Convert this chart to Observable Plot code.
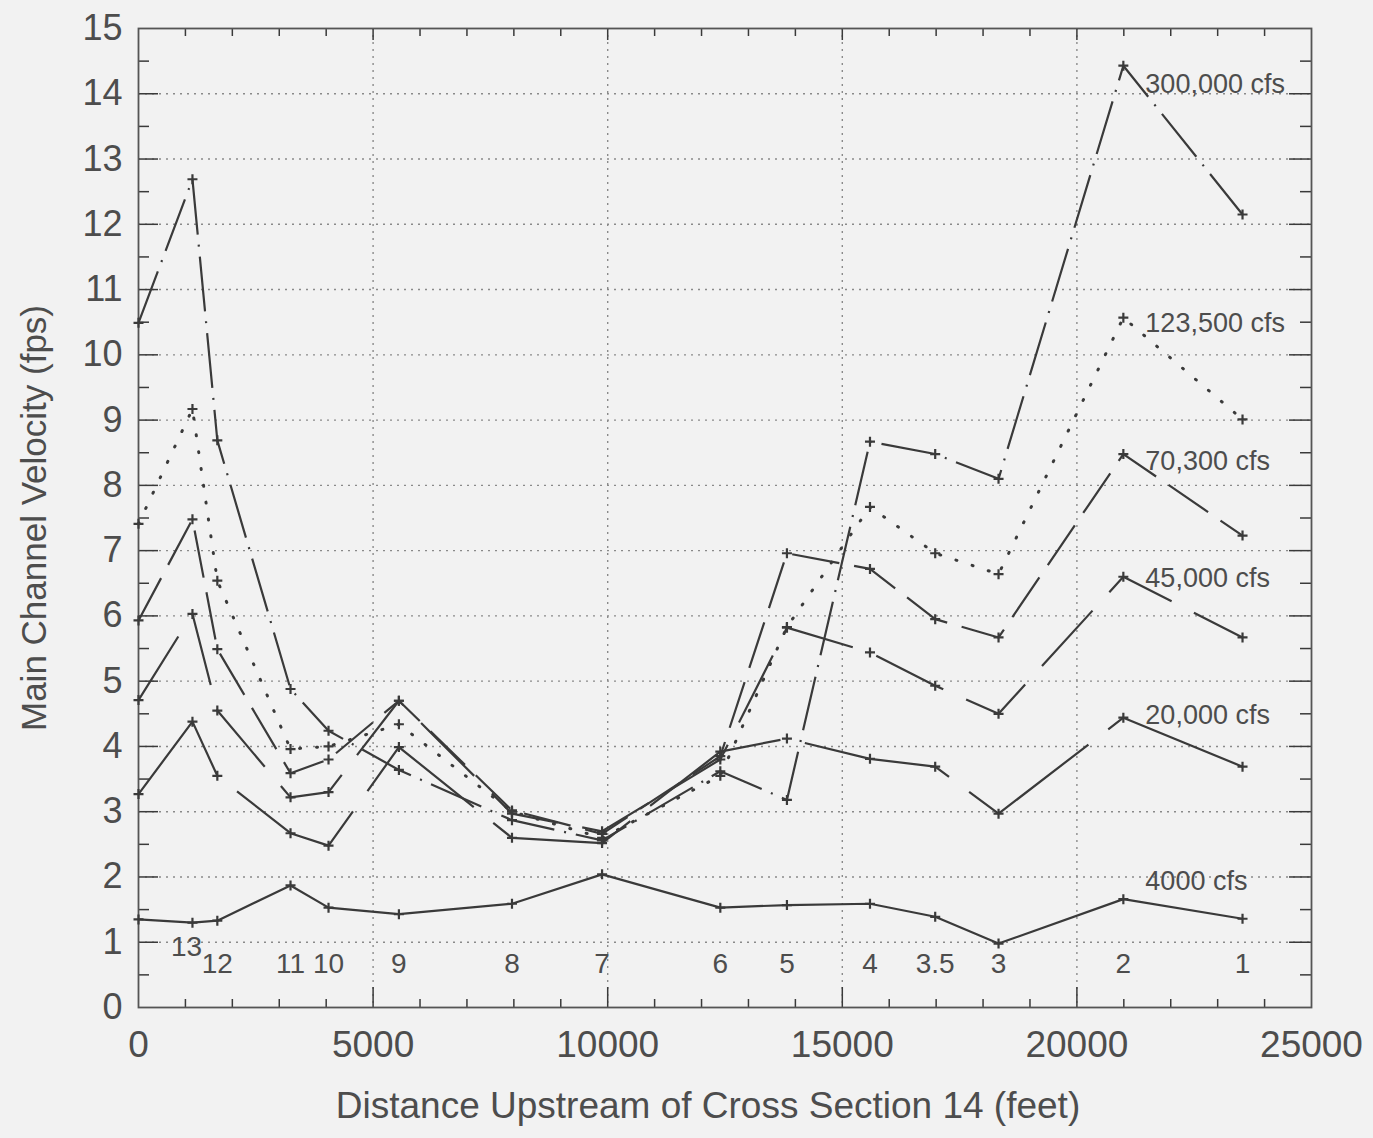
<!DOCTYPE html>
<html><head><meta charset="utf-8">
<script src="https://cdn.jsdelivr.net/npm/d3@7"></script>
<script src="https://cdn.jsdelivr.net/npm/@observablehq/plot@0.6"></script>
<style>
html,body{margin:0;padding:0;background:#f2f2f2;}
#chart{width:1373px;height:1138px;}
svg{font-family:"Liberation Sans",Arial,sans-serif;}
</style></head><body><div id="chart"></div>
<script>
// Cross-section stations (feet upstream of cross section 14)
const stations = [0, 1150, 1680, 3240, 4050, 5550, 7960, 9880, 12400, 13820, 15590, 16980, 18330, 20990, 23530];
const stationNames = ["", "13", "12", "11", "10", "9", "8", "7", "6", "5", "4", "3.5", "3", "2", "1"];

const seriesNames = ["4000 cfs", "20,000 cfs", "45,000 cfs", "70,300 cfs", "123,500 cfs", "300,000 cfs"];
const v4000   = [1.35, 1.30, 1.33, 1.87, 1.53, 1.43, 1.59, 2.04, 1.53, 1.57, 1.59, 1.39, 0.98, 1.66, 1.36];
const v20000  = [3.27, 4.38, 3.55, 2.67, 2.48, 3.99, 2.60, 2.52, 3.92, 4.12, 3.81, 3.69, 2.97, 4.44, 3.69];
const v45000  = [4.71, 6.03, 4.55, 3.22, 3.30, 4.70, 2.97, 2.70, 3.80, 5.82, 5.44, 4.93, 4.50, 6.60, 5.67];
const v70300  = [5.93, 7.48, 5.49, 3.59, 3.80, 4.70, 3.02, 2.66, 3.85, 6.96, 6.72, 5.95, 5.67, 8.48, 7.23];
const v123500 = [7.41, 9.17, 6.54, 3.96, 4.00, 4.34, 3.00, 2.60, 3.55, 5.83, 7.67, 6.96, 6.64, 10.57, 9.01];
const v300000 = [10.49, 12.69, 8.69, 4.88, 4.24, 3.64, 2.87, 2.56, 3.62, 3.18, 8.67, 8.48, 8.10, 14.43, 12.15];

const xTicks = [0, 5000, 10000, 15000, 20000, 25000];
const yTicks = [0, 1, 2, 3, 4, 5, 6, 7, 8, 9, 10, 11, 12, 13, 14, 15];

const xLabel = "Distance Upstream of Cross Section 14 (feet)";
const yLabel = "Main Channel Velocity (fps)";

// ---- layout & styles ----
const W = 1373, H = 1138;
const M = {top: 28, right: 62, bottom: 131, left: 138};
const plotW = W - M.left - M.right, plotH = H - M.top - M.bottom;
const ink = "#3a3a3a", textInk = "#4d4d4d";

const seriesValues = [v4000, v20000, v45000, v70300, v123500, v300000];
const dashes = [null, "150,25", "75,25", "48,15", "1,16", "55,10,2,10"];
const caps = ["butt", "butt", "butt", "butt", "round", "butt"];
const widths = [2.2, 2.2, 2.2, 2.2, 3, 2.2];
const labelDy = [-18, -2, 2, 7, 6, 19];

const rows = seriesNames.flatMap((name, i) =>
  stations.map((x, j) => ({series: name, idx: i, x, v: seriesValues[i][j], k: j})));

const plusSymbol = {
  draw(ctx, size) {
    const r = Math.sqrt(size / Math.PI);
    ctx.moveTo(-r, 0); ctx.lineTo(r, 0);
    ctx.moveTo(0, -r); ctx.lineTo(0, r);
  }
};

const xMinor = d3.range(1000, 25000, 1000).filter(d => d % 5000 !== 0);
const xMajor = xTicks.slice(1, -1);
const yMinor = d3.range(0.5, 15, 1);
const yMajor = yTicks.slice(1, -1);

const stationRows = stations.map((x, i) => ({x, name: stationNames[i]})).filter(d => d.name);

const marks = [
  // grid
  Plot.ruleX(xMajor, {x: d => d, stroke: "#8a8a8a", strokeWidth: 1.4, strokeDasharray: "2,5"}),
  Plot.ruleY(yMajor, {y: d => d, stroke: "#8a8a8a", strokeWidth: 1.4, strokeDasharray: "2,5"}),
  // inward ticks
  Plot.tickX(xMinor, {x: d => d, insetTop: plotH - 8, stroke: ink, strokeWidth: 1.5}),
  Plot.tickX(xMajor, {x: d => d, insetTop: plotH - 20, stroke: ink, strokeWidth: 1.5}),
  Plot.tickX(xMinor, {x: d => d, insetBottom: plotH - 8, stroke: ink, strokeWidth: 1.5}),
  Plot.tickX(xMajor, {x: d => d, insetBottom: plotH - 12, stroke: ink, strokeWidth: 1.5}),
  Plot.tickY(yMinor, {y: d => d, insetRight: plotW - 11, stroke: ink, strokeWidth: 1.5}),
  Plot.tickY(yMajor, {y: d => d, insetRight: plotW - 20, stroke: ink, strokeWidth: 1.5}),
  Plot.tickY(yMinor, {y: d => d, insetLeft: plotW - 11, stroke: ink, strokeWidth: 1.5}),
  Plot.tickY(yMajor, {y: d => d, insetLeft: plotW - 22, stroke: ink, strokeWidth: 1.5}),
  Plot.frame({stroke: "#555", strokeWidth: 1.8}),
  // axes
  Plot.axisX({ticks: xTicks, tickSize: 0, tickPadding: 23, tickFormat: d3.format("d"), fontSize: 37, fill: textInk, label: null}),
  Plot.axisY({ticks: yTicks, tickSize: 0, tickPadding: 16, tickFormat: d3.format("d"), fontSize: 36, fill: textInk, label: null}),
  Plot.text([xLabel], {text: d => d, frameAnchor: "bottom", dy: 110, dx: -17, fontSize: 37, fill: textInk}),
  Plot.text([yLabel], {text: d => d, frameAnchor: "left", textAnchor: "middle", rotate: -90, dx: -104, fontSize: 35, fill: textInk}),
  // station labels
  Plot.text(stationRows.filter(d => d.name !== "13"), {x: "x", text: "name", frameAnchor: "bottom", dy: -35, fontSize: 28, fill: textInk}),
  Plot.text(stationRows.filter(d => d.name === "13"), {x: "x", text: "name", frameAnchor: "bottom", dy: -52, dx: -6, fontSize: 28, fill: textInk})
];

seriesNames.forEach((name, i) => {
  const data = rows.filter(d => d.idx === i);
  marks.push(Plot.line(data, {
    x: "x", y: "v", stroke: ink, strokeWidth: widths[i],
    strokeDasharray: dashes[i] || undefined, strokeLinecap: caps[i]
  }));
  marks.push(Plot.dot(data, {x: "x", y: "v", symbol: plusSymbol, r: 5, fill: "none", stroke: ink, strokeWidth: 2.2}));
  marks.push(Plot.text(data.filter(d => d.k === stations.length - 2), {
    x: "x", y: "v", text: () => name, textAnchor: "start", dx: 22, dy: labelDy[i],
    fontSize: 27, fill: textInk
  }));
});

const chart = Plot.plot({
  width: W, height: H,
  marginTop: M.top, marginRight: M.right, marginBottom: M.bottom, marginLeft: M.left,
  x: {domain: [0, 25000], axis: null},
  y: {domain: [0, 15], axis: null},
  style: {background: "#f2f2f2", fontFamily: "'Liberation Sans', Arial, sans-serif", color: textInk},
  marks
});
document.getElementById("chart").appendChild(chart);
</script>
</body></html>
